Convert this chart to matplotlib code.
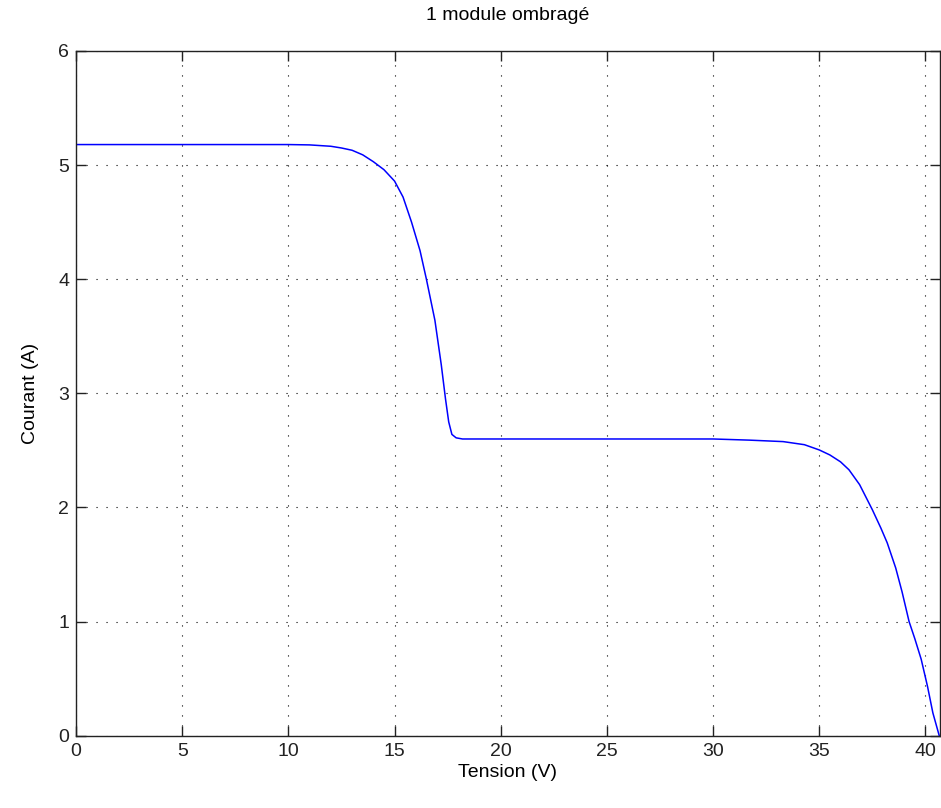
import matplotlib
matplotlib.use('Agg')
from matplotlib import pyplot as plt

# courbe I-V, 1 module ombragé
tension = [0, 2, 4, 6, 8, 10, 11, 12, 12.5, 13, 13.5, 14, 14.5, 15, 15.4, 15.8,
           16.2, 16.5, 16.9, 17.2, 17.4, 17.55, 17.7, 17.9, 18.2, 20, 25, 30,
           31.7, 33.3, 34.3, 35, 35.5, 36, 36.4, 36.9, 37.5, 37.9, 38.2, 38.6,
           38.9, 39.23, 39.5, 39.8, 40.1, 40.35, 40.65]
courant = [5.18, 5.18, 5.18, 5.18, 5.18, 5.18, 5.177, 5.165, 5.15, 5.13, 5.09,
           5.03, 4.96, 4.86, 4.72, 4.50, 4.25, 4.0, 3.64, 3.25, 2.95, 2.75, 2.64,
           2.61, 2.60, 2.60, 2.60, 2.60, 2.59, 2.577, 2.55, 2.504, 2.46, 2.40,
           2.33, 2.20, 1.98, 1.82, 1.69, 1.47, 1.26, 1.0, 0.85, 0.67, 0.43, 0.2,
           0.0]

x_ticks = [0, 5, 10, 15, 20, 25, 30, 35, 40]
y_ticks = [0, 1, 2, 3, 4, 5, 6]

plt.rcParams['font.family'] = ['Liberation Sans', 'DejaVu Sans']
fig = plt.figure(figsize=(9.41, 8.08), dpi=100)
ax = fig.add_axes([0.0808, 0.0895, 0.918, 0.8474])

ax.plot(tension, courant, color='#0000ff', linewidth=1.1)

ax.set_xlim(0, 40.68)
ax.set_ylim(0, 6)
ax.set_xticks(x_ticks)
ax.set_yticks(y_ticks)
ax.grid(True, color='black', linestyle=(0, (1, 8)), linewidth=0.8)
ax.tick_params(direction='in', length=7, width=1, top=True, right=True,
               labelsize=14, colors='#222222', pad=5)
for s in ax.spines.values():
    s.set_color('#222222')
    s.set_linewidth(1)

ax.set_title('1 module ombragé', fontsize=14, pad=22)
ax.set_xlabel('Tension (V)', fontsize=14, labelpad=3)
ax.set_ylabel('Courant (A)', fontsize=14, labelpad=14)

plt.savefig('out.png', dpi=100)
